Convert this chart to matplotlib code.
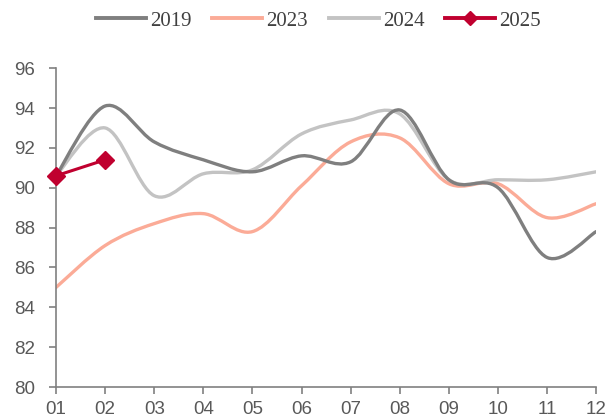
import numpy as np
import matplotlib
matplotlib.use("Agg")
import matplotlib.pyplot as plt
from matplotlib.path import Path
from matplotlib.patches import PathPatch
from matplotlib.lines import Line2D

months = ["01", "02", "03", "04", "05", "06", "07", "08", "09", "10", "11", "12"]
s2019 = [90.6, 94.1, 92.3, 91.4, 90.8, 91.6, 91.3, 93.9, 90.4, 90.0, 86.5, 87.8]
s2023 = [85.0, 87.1, 88.2, 88.7, 87.8, 90.1, 92.3, 92.5, 90.2, 90.2, 88.5, 89.2]
s2024 = [90.6, 93.0, 89.6, 90.7, 90.9, 92.7, 93.4, 93.7, 90.4, 90.4, 90.4, 90.8]
s2025 = [90.6, 91.4]

c2019 = "#7f7f7f"
c2023 = "#fbab97"
c2024 = "#c3c3c3"
c2025 = "#c0002f"

fig = plt.figure(figsize=(6.09, 4.18), dpi=100)
ax = fig.add_axes([0.092, 0.074, 0.887, 0.763])


def smooth_path(x, y, tension=1/6):
    x = np.asarray(x, float); y = np.asarray(y, float)
    n = len(x)
    verts = [(x[0], y[0])]
    codes = [Path.MOVETO]
    for i in range(n - 1):
        p0 = np.array([x[max(i - 1, 0)], y[max(i - 1, 0)]])
        p1 = np.array([x[i], y[i]])
        p2 = np.array([x[i + 1], y[i + 1]])
        p3 = np.array([x[min(i + 2, n - 1)], y[min(i + 2, n - 1)]])
        c1 = p1 + (p2 - p0) * tension
        c2 = p2 - (p3 - p1) * tension
        verts += [tuple(c1), tuple(c2), tuple(p2)]
        codes += [Path.CURVE4] * 3
    return Path(verts, codes)


xs = np.arange(len(months))
for data, col in [(s2023, c2023), (s2024, c2024), (s2019, c2019)]:
    patch = PathPatch(smooth_path(xs, data), facecolor="none", edgecolor=col,
                      lw=2.4, capstyle="round", joinstyle="round", zorder=2)
    ax.add_patch(patch)

ax.plot(xs[:len(s2025)], s2025, color=c2025, lw=2.2, marker="D", markersize=9,
        zorder=3, clip_on=False)

ax.set_xlim(0, 11)
ax.set_ylim(80, 96)
ax.set_yticks(np.arange(80, 97, 2))
ax.set_xticks(xs)
ax.set_xticklabels(months)

for s in ["top", "right"]:
    ax.spines[s].set_visible(False)
for s in ["left", "bottom"]:
    ax.spines[s].set_color("#808080")
    ax.spines[s].set_linewidth(1.2)
ax.tick_params(axis="both", colors="#808080", labelcolor="#595959", length=5, width=1.2,
               direction="out", labelsize=13.5)
ax.tick_params(axis="y", pad=10)
ax.tick_params(axis="x", pad=5)
for lab in ax.get_xticklabels() + ax.get_yticklabels():
    lab.set_fontfamily("Liberation Sans")

handles = [
    Line2D([], [], color=c2019, lw=2.8),
    Line2D([], [], color=c2023, lw=2.8),
    Line2D([], [], color=c2024, lw=2.8),
    Line2D([], [], color=c2025, lw=2.8, marker="D", markersize=7),
]
fig.legend(handles, ["2019", "2023", "2024", "2025"], loc="center",
           bbox_to_anchor=(0.523, 0.950), ncol=4, frameon=False,
           prop={"family": "Liberation Serif", "size": 15},
           handlelength=2.4, handletextpad=0.19, columnspacing=1.0,
           labelcolor="#404040")

fig.savefig("out.png", dpi=100)
